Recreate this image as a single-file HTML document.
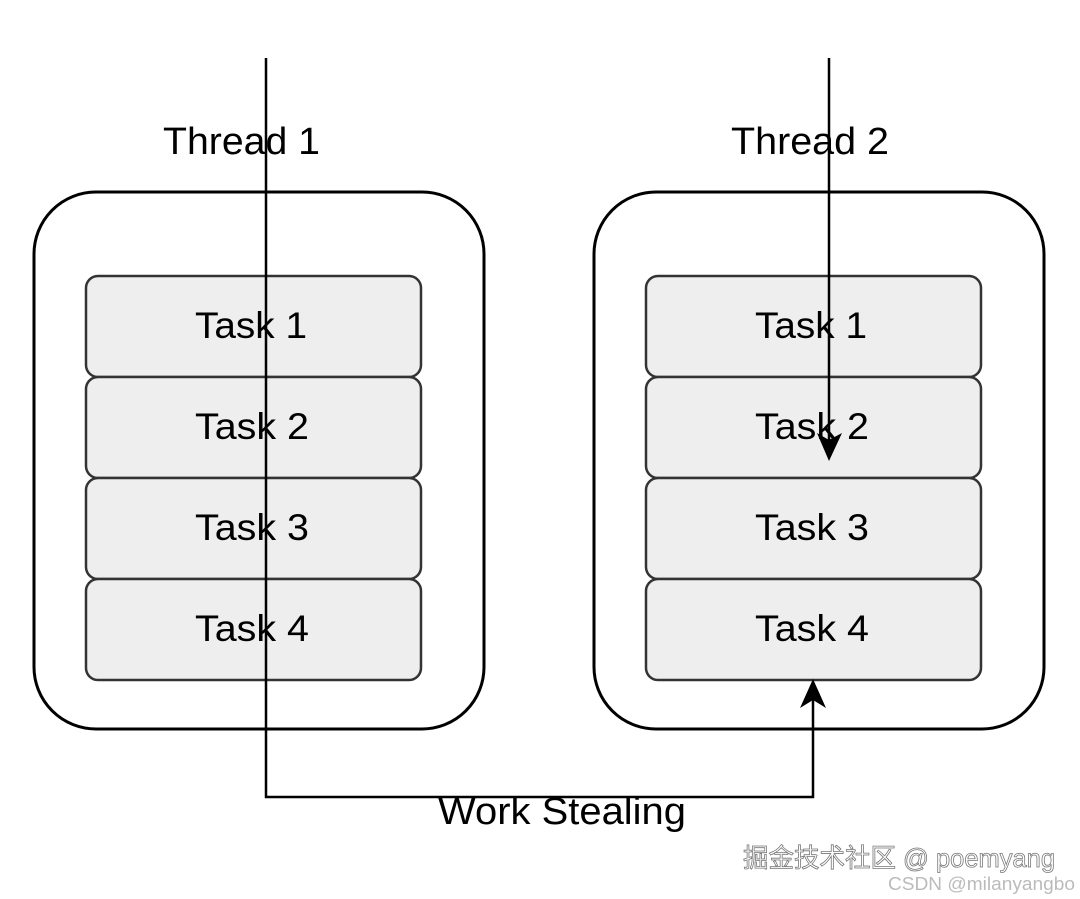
<!DOCTYPE html>
<html><head><meta charset="utf-8"><style>
body{margin:0;background:#fff;}
svg{display:block;font-family:"Liberation Sans",Arial,sans-serif;}
</style></head><body>
<svg width="1080" height="899" viewBox="0 0 1080 899" xmlns="http://www.w3.org/2000/svg">
<g fill="#fff" stroke="#000" stroke-width="3">
<rect x="34" y="192" width="450" height="537" rx="62"/>
<rect x="594" y="192" width="450" height="537" rx="62"/>
</g>
<g fill="#eeeeee" stroke="#333" stroke-width="2.5">
<rect x="86" y="276" width="335" height="101" rx="12"/>
<rect x="86" y="377" width="335" height="101" rx="12"/>
<rect x="86" y="478" width="335" height="101" rx="12"/>
<rect x="86" y="579" width="335" height="101" rx="12"/>
<rect x="646" y="276" width="335" height="101" rx="12"/>
<rect x="646" y="377" width="335" height="101" rx="12"/>
<rect x="646" y="478" width="335" height="101" rx="12"/>
<rect x="646" y="579" width="335" height="101" rx="12"/>
</g>
<g font-size="38" fill="#000">
<text x="163" y="154" textLength="157" lengthAdjust="spacingAndGlyphs">Thread 1</text>
<text x="731" y="154" textLength="158" lengthAdjust="spacingAndGlyphs">Thread 2</text>
</g>
<g font-size="37" fill="#000">
<text x="195" y="338" textLength="112" lengthAdjust="spacingAndGlyphs">Task 1</text>
<text x="195" y="439" textLength="114" lengthAdjust="spacingAndGlyphs">Task 2</text>
<text x="195" y="540" textLength="114" lengthAdjust="spacingAndGlyphs">Task 3</text>
<text x="195" y="641" textLength="114" lengthAdjust="spacingAndGlyphs">Task 4</text>
<text x="755" y="338" textLength="112" lengthAdjust="spacingAndGlyphs">Task 1</text>
<text x="755" y="439" textLength="114" lengthAdjust="spacingAndGlyphs">Task 2</text>
<text x="755" y="540" textLength="114" lengthAdjust="spacingAndGlyphs">Task 3</text>
<text x="755" y="641" textLength="114" lengthAdjust="spacingAndGlyphs">Task 4</text>
</g>
<g fill="none" stroke="#000" stroke-width="2.5">
<polyline points="266,58 266,797 813,797 813,700"/>
<line x1="829" y1="58" x2="829" y2="440"/>
</g>
<polygon points="829,461 817,433 829,440 842,433" fill="#000"/>
<polygon points="813,679 800,708 813,700 826,708" fill="#000"/>
<text x="438" y="824" font-size="38" textLength="248" lengthAdjust="spacingAndGlyphs" fill="#000">Work Stealing</text>
<text x="743" y="867" font-size="26" textLength="312" lengthAdjust="spacingAndGlyphs" fill="#fff" stroke="#777" stroke-width="0.8" font-family="'Liberation Sans','Noto Sans CJK SC',sans-serif">掘金技术社区 @ poemyang</text>
<text x="888" y="890" font-size="18" textLength="187" lengthAdjust="spacingAndGlyphs" fill="#bbb">CSDN @milanyangbo</text>
</svg>
</body></html>
